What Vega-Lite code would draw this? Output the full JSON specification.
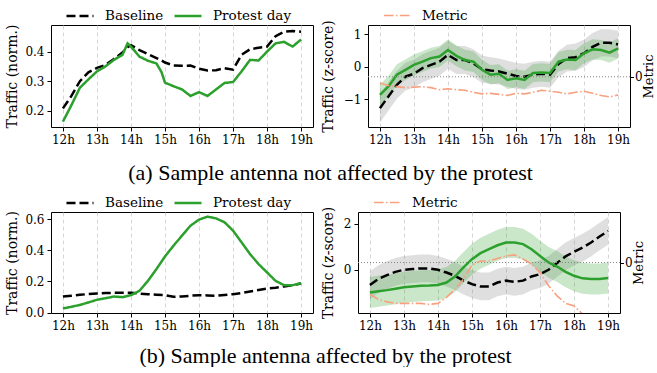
{
  "$schema": "https://vega.github.io/schema/vega-lite/v6.json",
  "padding": {"left": 5, "top": 0, "right": 0, "bottom": 0},
  "background": "white",
  "config": {
    "font": "'DejaVu Serif', serif",
    "view": {"stroke": "black", "strokeWidth": 1},
    "axis": {"labelFont": "'DejaVu Serif', serif", "labelFontSize": 12, "labelColor": "black", "titleFont": "'DejaVu Serif', serif", "titleFontSize": 14, "titleFontWeight": "normal", "titleColor": "black", "domain": false, "tickColor": "black", "tickSize": 4, "grid": false, "labelPadding": 3, "titlePadding": 5},
    "legend": {"labelFont": "'DejaVu Serif', serif", "labelFontSize": 13.5, "labelColor": "black", "symbolType": "stroke", "symbolStrokeWidth": 2.5, "symbolSize": 729, "labelOffset": 10, "columnPadding": 5, "direction": "horizontal", "orient": "none", "legendY": -24, "title": null, "padding": 0, "gridAlign": "none"},
    "title": {"font": "Liberation Serif", "fontSize": 22, "fontWeight": "normal", "color": "black", "anchor": "middle", "orient": "bottom"}
  },
  "datasets": {
    "n1": [
      {"h": 12, "Baseline": 0.208, "Protest day": 0.163},
      {"h": 12.25, "Baseline": 0.25, "Protest day": 0.219},
      {"h": 12.5, "Baseline": 0.3, "Protest day": 0.278},
      {"h": 12.75, "Baseline": 0.33, "Protest day": 0.306},
      {"h": 13, "Baseline": 0.345, "Protest day": 0.333},
      {"h": 13.25, "Baseline": 0.355, "Protest day": 0.35},
      {"h": 13.5, "Baseline": 0.375, "Protest day": 0.372},
      {"h": 13.75, "Baseline": 0.397, "Protest day": 0.389},
      {"h": 13.9, "Baseline": 0.415, "Protest day": 0.428},
      {"h": 14, "Baseline": 0.422, "Protest day": 0.417},
      {"h": 14.25, "Baseline": 0.405, "Protest day": 0.383},
      {"h": 14.5, "Baseline": 0.392, "Protest day": 0.369},
      {"h": 14.75, "Baseline": 0.378, "Protest day": 0.36},
      {"h": 14.9, "Baseline": 0.37, "Protest day": 0.33},
      {"h": 15, "Baseline": 0.363, "Protest day": 0.295},
      {"h": 15.25, "Baseline": 0.353, "Protest day": 0.283},
      {"h": 15.5, "Baseline": 0.352, "Protest day": 0.272},
      {"h": 15.75, "Baseline": 0.353, "Protest day": 0.25},
      {"h": 16, "Baseline": 0.342, "Protest day": 0.263},
      {"h": 16.25, "Baseline": 0.336, "Protest day": 0.25},
      {"h": 16.5, "Baseline": 0.337, "Protest day": 0.272},
      {"h": 16.75, "Baseline": 0.344, "Protest day": 0.294},
      {"h": 17, "Baseline": 0.339, "Protest day": 0.297},
      {"h": 17.25, "Baseline": 0.389, "Protest day": 0.333},
      {"h": 17.5, "Baseline": 0.408, "Protest day": 0.372},
      {"h": 17.75, "Baseline": 0.413, "Protest day": 0.37},
      {"h": 18, "Baseline": 0.417, "Protest day": 0.4},
      {"h": 18.25, "Baseline": 0.452, "Protest day": 0.428},
      {"h": 18.5, "Baseline": 0.467, "Protest day": 0.433},
      {"h": 18.75, "Baseline": 0.47, "Protest day": 0.417},
      {"h": 19, "Baseline": 0.467, "Protest day": 0.441}
    ],
    "n2": [
      {"h": 12, "Baseline": 0.103, "Protest day": 0.026},
      {"h": 12.25, "Baseline": 0.108, "Protest day": 0.037},
      {"h": 12.5, "Baseline": 0.114, "Protest day": 0.049},
      {"h": 12.75, "Baseline": 0.119, "Protest day": 0.065},
      {"h": 13, "Baseline": 0.123, "Protest day": 0.082},
      {"h": 13.25, "Baseline": 0.125, "Protest day": 0.092},
      {"h": 13.5, "Baseline": 0.127, "Protest day": 0.103},
      {"h": 13.75, "Baseline": 0.127, "Protest day": 0.099},
      {"h": 14, "Baseline": 0.127, "Protest day": 0.112},
      {"h": 14.25, "Baseline": 0.122, "Protest day": 0.14},
      {"h": 14.5, "Baseline": 0.118, "Protest day": 0.204},
      {"h": 14.75, "Baseline": 0.115, "Protest day": 0.28},
      {"h": 15, "Baseline": 0.112, "Protest day": 0.361},
      {"h": 15.25, "Baseline": 0.101, "Protest day": 0.43},
      {"h": 15.5, "Baseline": 0.103, "Protest day": 0.495},
      {"h": 15.75, "Baseline": 0.108, "Protest day": 0.559},
      {"h": 16, "Baseline": 0.112, "Protest day": 0.598},
      {"h": 16.25, "Baseline": 0.11, "Protest day": 0.617},
      {"h": 16.5, "Baseline": 0.108, "Protest day": 0.606},
      {"h": 16.75, "Baseline": 0.113, "Protest day": 0.581},
      {"h": 17, "Baseline": 0.118, "Protest day": 0.527},
      {"h": 17.25, "Baseline": 0.126, "Protest day": 0.452},
      {"h": 17.5, "Baseline": 0.135, "Protest day": 0.376},
      {"h": 17.75, "Baseline": 0.145, "Protest day": 0.312},
      {"h": 18, "Baseline": 0.155, "Protest day": 0.258},
      {"h": 18.25, "Baseline": 0.16, "Protest day": 0.204},
      {"h": 18.5, "Baseline": 0.168, "Protest day": 0.176},
      {"h": 18.75, "Baseline": 0.177, "Protest day": 0.176},
      {"h": 19, "Baseline": 0.187, "Protest day": 0.189}
    ],
    "z1": [
      {"h": 12, "zb": -1.27, "zb_lo": -1.72, "zb_hi": -0.82, "zp": -0.86, "zp_lo": -1.18, "zp_hi": -0.54, "Metric": -0.12},
      {"h": 12.25, "zb": -0.91, "zb_lo": -1.35, "zb_hi": -0.47, "zp": -0.6, "zp_lo": -0.92, "zp_hi": -0.28, "Metric": -0.17},
      {"h": 12.5, "zb": -0.55, "zb_lo": -0.98, "zb_hi": -0.12, "zp": -0.24, "zp_lo": -0.56, "zp_hi": 0.08, "Metric": -0.19},
      {"h": 12.75, "zb": -0.3, "zb_lo": -0.73, "zb_hi": 0.13, "zp": -0.09, "zp_lo": -0.41, "zp_hi": 0.23, "Metric": -0.21},
      {"h": 13, "zb": -0.21, "zb_lo": -0.64, "zb_hi": 0.22, "zp": 0.06, "zp_lo": -0.26, "zp_hi": 0.38, "Metric": -0.2},
      {"h": 13.25, "zb": -0.04, "zb_lo": -0.47, "zb_hi": 0.39, "zp": 0.16, "zp_lo": -0.16, "zp_hi": 0.48, "Metric": -0.19},
      {"h": 13.5, "zb": 0.06, "zb_lo": -0.37, "zb_hi": 0.49, "zp": 0.27, "zp_lo": -0.05, "zp_hi": 0.59, "Metric": -0.21},
      {"h": 13.75, "zb": 0.16, "zb_lo": -0.27, "zb_hi": 0.59, "zp": 0.32, "zp_lo": 0.0, "zp_hi": 0.64, "Metric": -0.25},
      {"h": 14, "zb": 0.37, "zb_lo": -0.06, "zb_hi": 0.8, "zp": 0.52, "zp_lo": 0.2, "zp_hi": 0.84, "Metric": -0.23},
      {"h": 14.25, "zb": 0.21, "zb_lo": -0.22, "zb_hi": 0.64, "zp": 0.34, "zp_lo": 0.02, "zp_hi": 0.66, "Metric": -0.25},
      {"h": 14.5, "zb": 0.21, "zb_lo": -0.22, "zb_hi": 0.64, "zp": 0.21, "zp_lo": -0.11, "zp_hi": 0.53, "Metric": -0.26},
      {"h": 14.75, "zb": 0.11, "zb_lo": -0.32, "zb_hi": 0.54, "zp": 0.16, "zp_lo": -0.16, "zp_hi": 0.48, "Metric": -0.3},
      {"h": 15, "zb": -0.07, "zb_lo": -0.49, "zb_hi": 0.35, "zp": -0.09, "zp_lo": -0.4, "zp_hi": 0.22, "Metric": -0.33},
      {"h": 15.25, "zb": -0.11, "zb_lo": -0.52, "zb_hi": 0.3, "zp": -0.24, "zp_lo": -0.54, "zp_hi": 0.06, "Metric": -0.32},
      {"h": 15.5, "zb": -0.14, "zb_lo": -0.54, "zb_hi": 0.26, "zp": -0.21, "zp_lo": -0.5, "zp_hi": 0.08, "Metric": -0.34},
      {"h": 15.75, "zb": -0.21, "zb_lo": -0.61, "zb_hi": 0.19, "zp": -0.4, "zp_lo": -0.68, "zp_hi": -0.12, "Metric": -0.36},
      {"h": 16, "zb": -0.28, "zb_lo": -0.68, "zb_hi": 0.12, "zp": -0.35, "zp_lo": -0.63, "zp_hi": -0.07, "Metric": -0.32},
      {"h": 16.25, "zb": -0.3, "zb_lo": -0.7, "zb_hi": 0.1, "zp": -0.4, "zp_lo": -0.68, "zp_hi": -0.12, "Metric": -0.33},
      {"h": 16.5, "zb": -0.24, "zb_lo": -0.64, "zb_hi": 0.16, "zp": -0.19, "zp_lo": -0.47, "zp_hi": 0.09, "Metric": -0.3},
      {"h": 16.75, "zb": -0.21, "zb_lo": -0.61, "zb_hi": 0.19, "zp": -0.17, "zp_lo": -0.45, "zp_hi": 0.11, "Metric": -0.26},
      {"h": 17, "zb": -0.24, "zb_lo": -0.64, "zb_hi": 0.16, "zp": -0.19, "zp_lo": -0.47, "zp_hi": 0.09, "Metric": -0.28},
      {"h": 17.25, "zb": 0.09, "zb_lo": -0.32, "zb_hi": 0.5, "zp": 0.16, "zp_lo": -0.14, "zp_hi": 0.46, "Metric": -0.3},
      {"h": 17.5, "zb": 0.27, "zb_lo": -0.14, "zb_hi": 0.68, "zp": 0.23, "zp_lo": -0.07, "zp_hi": 0.53, "Metric": -0.33},
      {"h": 17.75, "zb": 0.3, "zb_lo": -0.12, "zb_hi": 0.72, "zp": 0.21, "zp_lo": -0.1, "zp_hi": 0.52, "Metric": -0.3},
      {"h": 18, "zb": 0.42, "zb_lo": 0.0, "zb_hi": 0.84, "zp": 0.42, "zp_lo": 0.11, "zp_hi": 0.73, "Metric": -0.28},
      {"h": 18.25, "zb": 0.62, "zb_lo": 0.2, "zb_hi": 1.04, "zp": 0.54, "zp_lo": 0.23, "zp_hi": 0.85, "Metric": -0.32},
      {"h": 18.5, "zb": 0.74, "zb_lo": 0.32, "zb_hi": 1.16, "zp": 0.52, "zp_lo": 0.21, "zp_hi": 0.83, "Metric": -0.36},
      {"h": 18.75, "zb": 0.74, "zb_lo": 0.32, "zb_hi": 1.16, "zp": 0.44, "zp_lo": 0.13, "zp_hi": 0.75, "Metric": -0.39},
      {"h": 19, "zb": 0.69, "zb_lo": 0.27, "zb_hi": 1.11, "zp": 0.57, "zp_lo": 0.26, "zp_hi": 0.88, "Metric": -0.35}
    ],
    "z2": [
      {"h": 12, "zb": -0.66, "zb_lo": -1.26, "zb_hi": -0.06, "zp": -0.98, "zp_lo": -1.65, "zp_hi": -0.31, "Metric": -0.63},
      {"h": 12.25, "zb": -0.4, "zb_lo": -1.0, "zb_hi": 0.2, "zp": -0.93, "zp_lo": -1.6, "zp_hi": -0.26, "Metric": -0.73},
      {"h": 12.5, "zb": -0.23, "zb_lo": -0.83, "zb_hi": 0.37, "zp": -0.88, "zp_lo": -1.55, "zp_hi": -0.21, "Metric": -0.78},
      {"h": 12.75, "zb": -0.09, "zb_lo": -0.69, "zb_hi": 0.51, "zp": -0.82, "zp_lo": -1.49, "zp_hi": -0.15, "Metric": -0.81},
      {"h": 13, "zb": 0.0, "zb_lo": -0.6, "zb_hi": 0.6, "zp": -0.76, "zp_lo": -1.43, "zp_hi": -0.09, "Metric": -0.81},
      {"h": 13.25, "zb": 0.03, "zb_lo": -0.57, "zb_hi": 0.63, "zp": -0.72, "zp_lo": -1.39, "zp_hi": -0.05, "Metric": -0.81},
      {"h": 13.5, "zb": 0.06, "zb_lo": -0.54, "zb_hi": 0.66, "zp": -0.69, "zp_lo": -1.36, "zp_hi": -0.02, "Metric": -0.81},
      {"h": 13.75, "zb": 0.06, "zb_lo": -0.54, "zb_hi": 0.66, "zp": -0.68, "zp_lo": -1.35, "zp_hi": -0.01, "Metric": -0.83},
      {"h": 14, "zb": 0.0, "zb_lo": -0.6, "zb_hi": 0.6, "zp": -0.66, "zp_lo": -1.33, "zp_hi": 0.01, "Metric": -0.81},
      {"h": 14.25, "zb": -0.12, "zb_lo": -0.72, "zb_hi": 0.48, "zp": -0.55, "zp_lo": -1.22, "zp_hi": 0.12, "Metric": -0.69},
      {"h": 14.5, "zb": -0.26, "zb_lo": -0.86, "zb_hi": 0.34, "zp": -0.29, "zp_lo": -0.96, "zp_hi": 0.38, "Metric": -0.53},
      {"h": 14.75, "zb": -0.47, "zb_lo": -1.07, "zb_hi": 0.13, "zp": 0.1, "zp_lo": -0.57, "zp_hi": 0.77, "Metric": -0.33},
      {"h": 15, "zb": -0.62, "zb_lo": -1.22, "zb_hi": -0.02, "zp": 0.46, "zp_lo": -0.21, "zp_hi": 1.13, "Metric": -0.05},
      {"h": 15.25, "zb": -0.72, "zb_lo": -1.32, "zb_hi": -0.12, "zp": 0.72, "zp_lo": 0.05, "zp_hi": 1.39, "Metric": 0.03},
      {"h": 15.5, "zb": -0.72, "zb_lo": -1.32, "zb_hi": -0.12, "zp": 0.89, "zp_lo": 0.22, "zp_hi": 1.56, "Metric": 0.03},
      {"h": 15.75, "zb": -0.55, "zb_lo": -1.15, "zb_hi": 0.05, "zp": 1.06, "zp_lo": 0.39, "zp_hi": 1.73, "Metric": 0.08},
      {"h": 16, "zb": -0.47, "zb_lo": -1.07, "zb_hi": 0.13, "zp": 1.18, "zp_lo": 0.51, "zp_hi": 1.85, "Metric": 0.13},
      {"h": 16.25, "zb": -0.52, "zb_lo": -1.12, "zb_hi": 0.08, "zp": 1.18, "zp_lo": 0.51, "zp_hi": 1.85, "Metric": 0.15},
      {"h": 16.5, "zb": -0.47, "zb_lo": -1.07, "zb_hi": 0.13, "zp": 1.11, "zp_lo": 0.44, "zp_hi": 1.78, "Metric": 0.07},
      {"h": 16.75, "zb": -0.29, "zb_lo": -0.89, "zb_hi": 0.31, "zp": 0.89, "zp_lo": 0.22, "zp_hi": 1.56, "Metric": -0.03},
      {"h": 17, "zb": -0.19, "zb_lo": -0.79, "zb_hi": 0.41, "zp": 0.6, "zp_lo": -0.07, "zp_hi": 1.27, "Metric": -0.2},
      {"h": 17.25, "zb": 0.0, "zb_lo": -0.6, "zb_hi": 0.6, "zp": 0.32, "zp_lo": -0.35, "zp_hi": 0.99, "Metric": -0.46},
      {"h": 17.5, "zb": 0.29, "zb_lo": -0.31, "zb_hi": 0.89, "zp": 0.14, "zp_lo": -0.53, "zp_hi": 0.81, "Metric": -0.66},
      {"h": 17.75, "zb": 0.58, "zb_lo": -0.02, "zb_hi": 1.18, "zp": -0.09, "zp_lo": -0.76, "zp_hi": 0.58, "Metric": -0.81},
      {"h": 18, "zb": 0.78, "zb_lo": 0.18, "zb_hi": 1.38, "zp": -0.26, "zp_lo": -0.93, "zp_hi": 0.41, "Metric": -0.86},
      {"h": 18.25, "zb": 0.96, "zb_lo": 0.36, "zb_hi": 1.56, "zp": -0.37, "zp_lo": -1.04, "zp_hi": 0.3, "Metric": -1.02},
      {"h": 18.5, "zb": 1.18, "zb_lo": 0.58, "zb_hi": 1.78, "zp": -0.4, "zp_lo": -1.07, "zp_hi": 0.27, "Metric": -1.25},
      {"h": 18.75, "zb": 1.44, "zb_lo": 0.84, "zb_hi": 2.04, "zp": -0.4, "zp_lo": -1.07, "zp_hi": 0.27, "Metric": -1.45},
      {"h": 19, "zb": 1.68, "zb_lo": 1.08, "zb_hi": 2.28, "zp": -0.36, "zp_lo": -1.03, "zp_hi": 0.31, "Metric": -1.65}
    ]
  },
  "resolve": {"scale": {"color": "independent", "strokeDash": "independent"}, "legend": {"color": "independent", "strokeDash": "independent"}},
  "spacing": 3,
  "vconcat": [
    {
      "title": {"text": "(a) Sample antenna not affected by the protest", "offset": 17},
      "spacing": 6,
      "resolve": {"scale": {"color": "independent", "strokeDash": "independent"}, "legend": {"color": "independent", "strokeDash": "independent"}},
      "hconcat": [
        {
          "width": 262, "height": 102,
          "data": {"name": "n1"},
          "transform": [{"fold": ["Baseline", "Protest day"], "as": ["series", "v"]}],
          "mark": {"type": "line", "strokeWidth": 2.5},
          "encoding": {
            "x": {"field": "h", "type": "quantitative", "scale": {"domain": [11.65, 19.35], "nice": false, "zero": false}, "axis": {"values": [12, 13, 14, 15, 16, 17, 18, 19], "labelExpr": "datum.value + 'h'", "title": null, "grid": true, "gridColor": "#cccccc", "gridDash": [4, 3], "gridWidth": 0.8}},
            "y": {"field": "v", "type": "quantitative", "scale": {"domain": [0.145, 0.49], "nice": false, "zero": false}, "axis": {"title": "Traffic (norm.)", "values": [0.2, 0.3, 0.4], "format": ".1f"}},
            "color": {"field": "series", "type": "nominal", "scale": {"domain": ["Baseline", "Protest day"], "range": ["black", "#2ca02c"]}, "legend": {"legendX": 14}},
            "strokeDash": {"field": "series", "type": "nominal", "scale": {"domain": ["Baseline", "Protest day"], "range": [[9, 4], [1, 0]]}, "legend": {"legendX": 14}}
          }
        },
        {
          "width": 262, "height": 102,
          "data": {"name": "z1"},
          "resolve": {"scale": {"y": "independent"}},
          "layer": [
            {
              "layer": [
                {"mark": {"type": "area", "color": "gray", "opacity": 0.25},
                 "encoding": {
                   "x": {"field": "h", "type": "quantitative", "scale": {"domain": [11.65, 19.35], "nice": false, "zero": false}, "axis": {"values": [12, 13, 14, 15, 16, 17, 18, 19], "labelExpr": "datum.value + 'h'", "title": null, "grid": true, "gridColor": "#cccccc", "gridDash": [4, 3], "gridWidth": 0.8}},
                   "y": {"field": "zb_lo", "type": "quantitative", "scale": {"domain": [-1.85, 1.29], "nice": false, "zero": false}, "axis": {"title": "Traffic (z-score)", "values": [-1, 0, 1], "format": "d", "titlePadding": 8}},
                   "y2": {"field": "zb_hi"}}},
                {"mark": {"type": "area", "color": "#2ca02c", "opacity": 0.25},
                 "encoding": {"x": {"field": "h", "type": "quantitative", "scale": {"domain": [11.65, 19.35], "nice": false, "zero": false}, "axis": {"values": [12, 13, 14, 15, 16, 17, 18, 19], "labelExpr": "datum.value + 'h'", "title": null, "grid": true, "gridColor": "#cccccc", "gridDash": [4, 3], "gridWidth": 0.8}}, "y": {"field": "zp_lo", "type": "quantitative"}, "y2": {"field": "zp_hi"}}},
                {"mark": {"type": "line", "color": "black", "strokeWidth": 2.5, "strokeDash": [9, 4]},
                 "encoding": {"x": {"field": "h", "type": "quantitative", "scale": {"domain": [11.65, 19.35], "nice": false, "zero": false}, "axis": {"values": [12, 13, 14, 15, 16, 17, 18, 19], "labelExpr": "datum.value + 'h'", "title": null, "grid": true, "gridColor": "#cccccc", "gridDash": [4, 3], "gridWidth": 0.8}}, "y": {"field": "zb", "type": "quantitative"}}},
                {"mark": {"type": "line", "color": "#2ca02c", "strokeWidth": 2.5},
                 "encoding": {"x": {"field": "h", "type": "quantitative", "scale": {"domain": [11.65, 19.35], "nice": false, "zero": false}, "axis": {"values": [12, 13, 14, 15, 16, 17, 18, 19], "labelExpr": "datum.value + 'h'", "title": null, "grid": true, "gridColor": "#cccccc", "gridDash": [4, 3], "gridWidth": 0.8}}, "y": {"field": "zp", "type": "quantitative"}}}
              ]
            },
            {
              "layer": [
                {"data": {"values": [{}]},
                 "mark": {"type": "rule", "color": "#888888", "strokeDash": [1, 2], "strokeWidth": 1},
                 "encoding": {"y": {"datum": 0, "type": "quantitative", "scale": {"domain": [-0.97, 1], "nice": false, "zero": false}, "axis": {"orient": "right", "values": [0], "title": "Metric", "titleAngle": 270, "titleBaseline": "top", "format": "d", "tickSize": 3.5, "labelPadding": 1, "titlePadding": 0, "titleFontSize": 13}}}},
                {"transform": [{"fold": ["Metric"], "as": ["ms", "mv"]}],
                 "mark": {"type": "line", "strokeWidth": 1.6, "clip": true},
                 "encoding": {
                   "x": {"field": "h", "type": "quantitative", "scale": {"domain": [11.65, 19.35], "nice": false, "zero": false}, "axis": {"values": [12, 13, 14, 15, 16, 17, 18, 19], "labelExpr": "datum.value + 'h'", "title": null, "grid": true, "gridColor": "#cccccc", "gridDash": [4, 3], "gridWidth": 0.8}},
                   "y": {"field": "mv", "type": "quantitative"},
                   "color": {"field": "ms", "type": "nominal", "scale": {"domain": ["Metric"], "range": ["#f9a07e"]}, "legend": {"legendX": 15, "symbolStrokeWidth": 1.6}},
                   "strokeDash": {"field": "ms", "type": "nominal", "scale": {"domain": ["Metric"], "range": [[9.6, 2.4, 1.5, 2.4]]}, "legend": {"legendX": 15, "symbolStrokeWidth": 1.6}}
                 }}
              ]
            }
          ]
        }
      ]
    },
    {
      "title": {"text": "(b) Sample antenna affected by the protest", "offset": 14},
      "spacing": 6,
      "resolve": {"scale": {"color": "independent", "strokeDash": "independent"}, "legend": {"color": "independent", "strokeDash": "independent"}},
      "hconcat": [
        {
          "width": 262, "height": 101,
          "data": {"name": "n2"},
          "transform": [{"fold": ["Baseline", "Protest day"], "as": ["series", "v"]}],
          "mark": {"type": "line", "strokeWidth": 2.5},
          "encoding": {
            "x": {"field": "h", "type": "quantitative", "scale": {"domain": [11.65, 19.35], "nice": false, "zero": false}, "axis": {"values": [12, 13, 14, 15, 16, 17, 18, 19], "labelExpr": "datum.value + 'h'", "title": null, "grid": true, "gridColor": "#cccccc", "gridDash": [4, 3], "gridWidth": 0.8}},
            "y": {"field": "v", "type": "quantitative", "scale": {"domain": [-0.003, 0.647], "nice": false, "zero": false}, "axis": {"title": "Traffic (norm.)", "values": [0, 0.2, 0.4, 0.6], "format": ".1f"}},
            "color": {"field": "series", "type": "nominal", "scale": {"domain": ["Baseline", "Protest day"], "range": ["black", "#2ca02c"]}, "legend": {"legendX": 14}},
            "strokeDash": {"field": "series", "type": "nominal", "scale": {"domain": ["Baseline", "Protest day"], "range": [[9, 4], [1, 0]]}, "legend": {"legendX": 14}}
          }
        },
        {
          "width": 262, "height": 101,
          "data": {"name": "z2"},
          "resolve": {"scale": {"y": "independent"}},
          "layer": [
            {
              "layer": [
                {"mark": {"type": "area", "color": "gray", "opacity": 0.25},
                 "encoding": {
                   "x": {"field": "h", "type": "quantitative", "scale": {"domain": [11.65, 19.35], "nice": false, "zero": false}, "axis": {"values": [12, 13, 14, 15, 16, 17, 18, 19], "labelExpr": "datum.value + 'h'", "title": null, "grid": true, "gridColor": "#cccccc", "gridDash": [4, 3], "gridWidth": 0.8}},
                   "y": {"field": "zb_lo", "type": "quantitative", "scale": {"domain": [-1.87, 2.5], "nice": false, "zero": false}, "axis": {"title": "Traffic (z-score)", "values": [0, 2], "format": "d", "titlePadding": 8}},
                   "y2": {"field": "zb_hi"}}},
                {"mark": {"type": "area", "color": "#2ca02c", "opacity": 0.25},
                 "encoding": {"x": {"field": "h", "type": "quantitative", "scale": {"domain": [11.65, 19.35], "nice": false, "zero": false}, "axis": {"values": [12, 13, 14, 15, 16, 17, 18, 19], "labelExpr": "datum.value + 'h'", "title": null, "grid": true, "gridColor": "#cccccc", "gridDash": [4, 3], "gridWidth": 0.8}}, "y": {"field": "zp_lo", "type": "quantitative"}, "y2": {"field": "zp_hi"}}},
                {"mark": {"type": "line", "color": "black", "strokeWidth": 2.5, "strokeDash": [9, 4]},
                 "encoding": {"x": {"field": "h", "type": "quantitative", "scale": {"domain": [11.65, 19.35], "nice": false, "zero": false}, "axis": {"values": [12, 13, 14, 15, 16, 17, 18, 19], "labelExpr": "datum.value + 'h'", "title": null, "grid": true, "gridColor": "#cccccc", "gridDash": [4, 3], "gridWidth": 0.8}}, "y": {"field": "zb", "type": "quantitative"}}},
                {"mark": {"type": "line", "color": "#2ca02c", "strokeWidth": 2.5},
                 "encoding": {"x": {"field": "h", "type": "quantitative", "scale": {"domain": [11.65, 19.35], "nice": false, "zero": false}, "axis": {"values": [12, 13, 14, 15, 16, 17, 18, 19], "labelExpr": "datum.value + 'h'", "title": null, "grid": true, "gridColor": "#cccccc", "gridDash": [4, 3], "gridWidth": 0.8}}, "y": {"field": "zp", "type": "quantitative"}}}
              ]
            },
            {
              "layer": [
                {"data": {"values": [{}]},
                 "mark": {"type": "rule", "color": "#888888", "strokeDash": [1, 2], "strokeWidth": 1},
                 "encoding": {"y": {"datum": 0, "type": "quantitative", "scale": {"domain": [-1, 1], "nice": false, "zero": false}, "axis": {"orient": "right", "values": [0], "title": "Metric", "titleAngle": 270, "titleBaseline": "top", "format": "d", "tickSize": 3.5, "labelPadding": 1, "titlePadding": 0, "titleFontSize": 13}}}},
                {"transform": [{"fold": ["Metric"], "as": ["ms", "mv"]}],
                 "mark": {"type": "line", "strokeWidth": 1.6, "clip": true},
                 "encoding": {
                   "x": {"field": "h", "type": "quantitative", "scale": {"domain": [11.65, 19.35], "nice": false, "zero": false}, "axis": {"values": [12, 13, 14, 15, 16, 17, 18, 19], "labelExpr": "datum.value + 'h'", "title": null, "grid": true, "gridColor": "#cccccc", "gridDash": [4, 3], "gridWidth": 0.8}},
                   "y": {"field": "mv", "type": "quantitative"},
                   "color": {"field": "ms", "type": "nominal", "scale": {"domain": ["Metric"], "range": ["#f9a07e"]}, "legend": {"legendX": 15, "symbolStrokeWidth": 1.6}},
                   "strokeDash": {"field": "ms", "type": "nominal", "scale": {"domain": ["Metric"], "range": [[9.6, 2.4, 1.5, 2.4]]}, "legend": {"legendX": 15, "symbolStrokeWidth": 1.6}}
                 }}
              ]
            }
          ]
        }
      ]
    }
  ]
}
